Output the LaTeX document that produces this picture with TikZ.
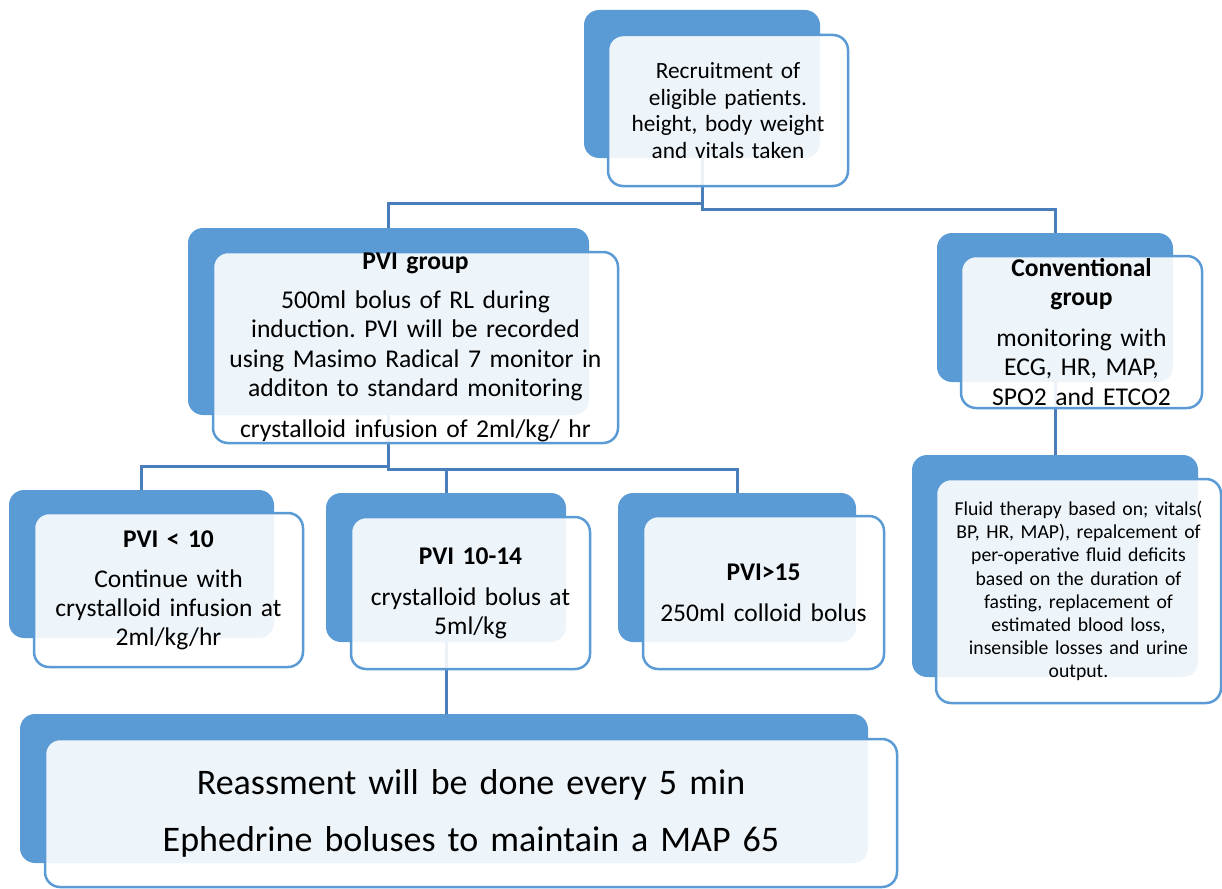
\documentclass[tikz,border=0pt]{standalone}
\usepackage{fontspec}
\setmainfont{Carlito}
\frenchspacing
\usetikzlibrary{backgrounds}
\definecolor{boxblue}{HTML}{5B9BD5}
\definecolor{linkblue}{HTML}{4A7EBB}
\tikzset{
  backbox/.style={rounded corners=15pt, fill=boxblue, draw=none, inner sep=0pt},
  frontbox/.style={rounded corners=15pt, draw=boxblue, line width=2.5pt, fill=white,
    fill opacity=0.9, text opacity=1, inner sep=0pt, align=center},
  link/.style={draw=linkblue, line width=3pt}
}
\begin{document}
\begin{tikzpicture}[x=1pt,y=-1pt]
\useasboundingbox (0,0) rectangle (1222,888);
% back panels
\node[backbox, minimum width=236pt, minimum height=148pt] (recruitB) at (702,84) {};
\node[backbox, minimum width=401pt, minimum height=187pt] (pviB) at (388.5,321.5) {};
\node[backbox, minimum width=236pt, minimum height=149pt] (convB) at (1055,307.5) {};
\node[backbox, minimum width=286pt, minimum height=222pt] (fluidB) at (1055,566) {};
\node[backbox, minimum width=265pt, minimum height=148pt] (lowB) at (141.5,564) {};
\node[backbox, minimum width=240pt, minimum height=149pt] (midB) at (446,567.5) {};
\node[backbox, minimum width=238pt, minimum height=149pt] (highB) at (737,567.5) {};
\node[backbox, minimum width=848pt, minimum height=149pt] (reassB) at (444,788.5) {};
% connectors
\begin{scope}[on background layer]
\draw[link] (recruitB.south) -- ++(0,45) -| (pviB.north);
\draw[link] (recruitB.south) -- ++(0,51) -| (convB.north);
\draw[link] (pviB.south) -- ++(0,51) -| (lowB.north);
\draw[link] (pviB.south) -- ++(0,54) -| (midB.north);
\draw[link] (pviB.south) -- ++(0,54) -| (highB.north);
\draw[link] (convB.south) -- (fluidB.north);
\draw[link] (midB.south) -- (midB.south |- reassB.north);
\end{scope}
% front panels
\node[frontbox, minimum width=240pt, minimum height=151pt, text width=228pt,
  font=\fontsize{23.3}{26.7}\selectfont] (recruit) at (728,110.5)
  {Recruitment of\\eligible patients.\\height, body weight\\and vitals taken};
\node[frontbox, minimum width=405pt, minimum height=191pt, text width=398pt,
  font=\fontsize{25.6}{29.3}\selectfont] (pvi) at (415.5,347.5)
  {\textbf{PVI group}\\[10pt]500ml bolus of RL during\\induction. PVI will be recorded\\using Masimo Radical 7 monitor in\\additon to standard monitoring\\[12pt]crystalloid infusion of 2ml/kg/ hr};
\node[frontbox, minimum width=241pt, minimum height=152pt, text width=230pt,
  font=\fontsize{25.6}{29.5}\selectfont] (conv) at (1081.5,332)
  {\textbf{Conventional}\\\textbf{group}\\[11pt]monitoring with\\ECG, HR, MAP,\\SPO2 and ETCO2};
\node[frontbox, minimum width=285pt, minimum height=224pt, text width=278pt,
  font=\fontsize{19.7}{23.1}\selectfont] (fluid) at (1078.5,591)
  {Fluid therapy based on; vitals(\\BP, HR, MAP), repalcement of\\per-operative fluid deficits\\based on the duration of\\fasting, replacement of\\estimated blood loss,\\insensible losses and urine\\output.};
\node[frontbox, minimum width=269pt, minimum height=154pt, text width=260pt,
  font=\fontsize{25.5}{29}\selectfont] (low) at (168.5,590)
  {\textbf{PVI < 10}\\[11pt]Continue with\\crystalloid infusion at\\2ml/kg/hr};
\node[frontbox, minimum width=239pt, minimum height=152pt, text width=230pt,
  font=\fontsize{25.5}{29}\selectfont] (mid) at (470.5,593)
  {\textbf{PVI 10-14}\\[12pt]crystalloid bolus at\\5ml/kg};
\node[frontbox, minimum width=241pt, minimum height=153pt, text width=234pt,
  font=\fontsize{25.5}{29}\selectfont] (high) at (763.5,592.5)
  {\textbf{PVI>15}\\[12pt]250ml colloid bolus};
\node[frontbox, minimum width=852pt, minimum height=148pt, text width=840pt,
  font=\fontsize{36}{57}\selectfont] (reass) at (471,813)
  {Reassment will be done every 5 min\\Ephedrine boluses to maintain a MAP 65};
\end{tikzpicture}
\end{document}
